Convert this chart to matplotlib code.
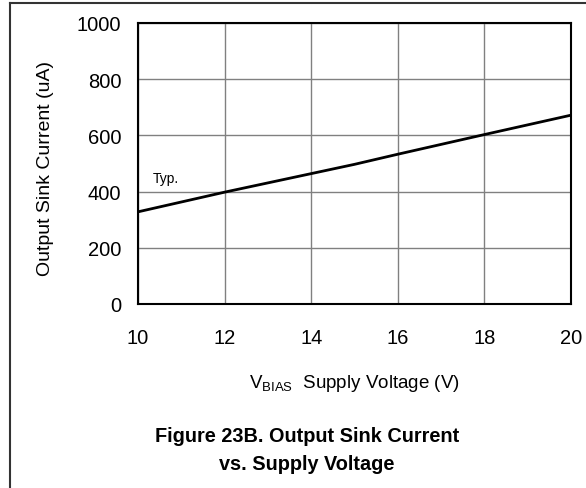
import matplotlib.pyplot as plt
from matplotlib.lines import Line2D

plt.rcParams['font.family'] = ['Liberation Sans', 'DejaVu Sans']
plt.rcParams['mathtext.fontset'] = 'custom'
plt.rcParams['mathtext.rm'] = 'Liberation Sans'

# typical sink current vs. bias supply voltage
vbias = [10, 12, 14, 15, 16, 18, 20]
sink_ua = [328, 398, 464, 497, 533, 603, 672]

xticks = [10, 12, 14, 16, 18, 20]
yticks = [0, 200, 400, 600, 800, 1000]

fig = plt.figure(figsize=(5.86, 4.89), dpi=100)
ax = fig.add_axes([138 / 586, 1 - 305 / 489, 433 / 586, 281 / 489])

ax.plot(vbias, sink_ua, color='black', lw=2)
ax.set_xlim(10, 20)
ax.set_ylim(0, 1000)
ax.set_xticks(xticks)
ax.set_yticks(yticks)
ax.grid(True, color='#808080', lw=1)
ax.tick_params(length=0, labelsize=14.5, pad=12)
ax.tick_params(axis='x', pad=17)
for s in ax.spines.values():
    s.set_linewidth(1.5)
    s.set_color('black')

ax.text(10.35, 434, 'Typ.', fontsize=10)

ax.set_ylabel('Output Sink Current (uA)', fontsize=14)
ax.yaxis.set_label_coords(-0.195, 0.484)
ax.set_xlabel(r'V$_{\mathregular{BIAS}}$  Supply Voltage (V)', fontsize=13.5, labelpad=18)

fig.text(0.524, 1 - 437 / 489, 'Figure 23B. Output Sink Current', ha='center',
         va='center', fontsize=14.3, fontweight='bold')
fig.text(0.524, 1 - 465 / 489, 'vs. Supply Voltage', ha='center',
         va='center', fontsize=14.3, fontweight='bold')

# outer frame edges (left and top)
fig.add_artist(Line2D([10 / 586, 10 / 586], [0, 1 - 4 / 489], color='#333333', lw=1.5))
fig.add_artist(Line2D([10 / 586, 1], [1 - 4 / 489, 1 - 4 / 489], color='#333333', lw=1.5))

fig.savefig('out.png', dpi=100)
